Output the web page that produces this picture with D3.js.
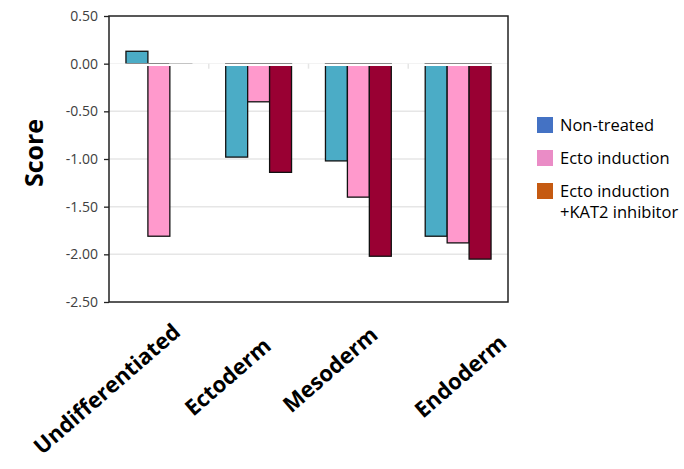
<!DOCTYPE html>
<html>
<head>
<meta charset="utf-8">
<script src="https://cdn.jsdelivr.net/npm/d3@7"></script>
<style>
  body { margin: 0; background: #fff; }
  text { font-family: "Open Sans", "Noto Sans", sans-serif; }
</style>
</head>
<body>
<svg id="chart" width="684" height="469"></svg>
<script>
const categories = ["Undifferentiated", "Ectoderm", "Mesoderm", "Endoderm"];
const seriesNames = ["Non-treated", "Ecto induction", "Ecto induction\n+KAT2 inhibitor"];
const nonTreated = [0.13, -0.98, -1.02, -1.81];
const ectoInduction = [-1.81, -0.40, -1.40, -1.88];
const ectoKat2 = [-0.01, -1.14, -2.02, -2.05];
const yTicks = [0.5, 0, -0.5, -1, -1.5, -2, -2.5];

const barColors = ["#4bacc6", "#ff99cc", "#990033"];
const legendColors = ["#4472c4", "#ea8cc6", "#c55a11"];

// label end points are not evenly placed in the original figure
const labelDx = [23, 14, 21, 50];
const labelDy = [32, 46, 35, 43];

const svg = d3.select("#chart");
const margin = { top: 16, left: 109, right: 176, bottom: 167 };
const width = 684 - margin.left - margin.right;
const height = 469 - margin.top - margin.bottom;

const g = svg.append("g").attr("transform", `translate(${margin.left},${margin.top})`);

const x0 = d3.scaleBand().domain(categories).range([0, width]).paddingInner(0.34).paddingOuter(0.17);
const x1 = d3.scaleBand().domain([0, 1, 2]).range([0, x0.bandwidth()]);
const y = d3.scaleLinear().domain([-2.5, 0.5]).range([height, 0]);

// gridlines
g.selectAll("line.grid")
    .data(yTicks.filter(t => t !== 0.5 && t !== -2.5))
    .enter()
    .append("line")
    .attr("class", "grid")
    .attr("x1", 0).attr("x2", width)
    .attr("y1", d => y(d)).attr("y2", d => y(d))
    .attr("stroke", "#e6e6e6")
    .attr("stroke-width", 1.5);

const rows = categories.map((c, i) => ({
    cat: c,
    vals: [nonTreated[i], ectoInduction[i], ectoKat2[i]]
}));

const groups = g.selectAll("g.grp")
    .data(rows)
    .enter()
    .append("g")
    .attr("transform", d => `translate(${x0(d.cat)},0)`);

groups.selectAll("rect")
    .data(d => d.vals.map((v, k) => ({ v, k })))
    .enter()
    .append("rect")
    .attr("x", d => x1(d.k))
    .attr("width", x1.bandwidth())
    .attr("y", d => Math.min(y(d.v), y(0)))
    .attr("height", d => Math.abs(y(d.v) - y(0)))
    .attr("fill", d => barColors[d.k])
    .attr("stroke", d => Math.abs(d.v) < 0.05 ? "#888" : "#111")
    .attr("stroke-width", 1.3);

// zero axis (white band with faint ticks)
g.append("line")
    .attr("x1", 0).attr("x2", width)
    .attr("y1", y(0) + 1).attr("y2", y(0) + 1)
    .attr("stroke", "#fff")
    .attr("stroke-width", 2.5);

g.selectAll("line.ztick")
    .data(categories.slice(1))
    .enter()
    .append("line")
    .attr("class", "ztick")
    .attr("x1", d => x0(d) - x0.step() * 0.17)
    .attr("x2", d => x0(d) - x0.step() * 0.17)
    .attr("y1", y(0)).attr("y2", y(0) + 5)
    .attr("stroke", "#e6e6e6")
    .attr("stroke-width", 1.5);

// frame
g.append("rect")
    .attr("width", width).attr("height", height)
    .attr("fill", "none")
    .attr("stroke", "#222")
    .attr("stroke-width", 1.5);

// y axis
const fmt = d3.format(".2f");
const yAxis = g.append("g")
    .call(d3.axisLeft(y).tickValues(yTicks).tickFormat(d => fmt(d).replace("\u2212", "-")).tickSize(5).tickPadding(6));
yAxis.select(".domain").remove();
yAxis.selectAll("line").attr("stroke", "#222").attr("stroke-width", 1.3);
yAxis.selectAll("text").attr("fill", "#404040").style("font-size", "14px");

svg.append("text")
    .attr("transform", `translate(43,153) rotate(-90)`)
    .attr("text-anchor", "middle")
    .style("font-size", "25px")
    .style("font-weight", "bold")
    .attr("fill", "#000")
    .text("Score");

// x labels
g.selectAll("text.xlab")
    .data(categories)
    .enter()
    .append("text")
    .attr("class", "xlab")
    .attr("text-anchor", "end")
    .attr("transform", (d, i) => `translate(${x0(d) + x0.bandwidth() / 2 + labelDx[i]},${height + labelDy[i]}) rotate(-41)`)
    .style("font-size", "22px")
    .style("font-weight", "bold")
    .attr("fill", "#000")
    .text(d => d);

// legend
const legend = svg.append("g").attr("transform", "translate(537,117)");
const lg = legend.selectAll("g")
    .data(seriesNames)
    .enter()
    .append("g")
    .attr("transform", (d, i) => `translate(0,${i * 33})`);
lg.append("rect")
    .attr("width", 16).attr("height", 16)
    .attr("fill", (d, i) => legendColors[i]);
lg.append("text")
    .attr("x", 23)
    .attr("y", 14)
    .style("font-size", "16.5px")
    .attr("fill", "#000")
    .each(function (d) {
        d.split("\n").forEach((line, j) => {
            d3.select(this).append("tspan")
                .attr("x", 23)
                .attr("dy", j === 0 ? 0 : 21)
                .text(line);
        });
    });
</script>
</body>
</html>
